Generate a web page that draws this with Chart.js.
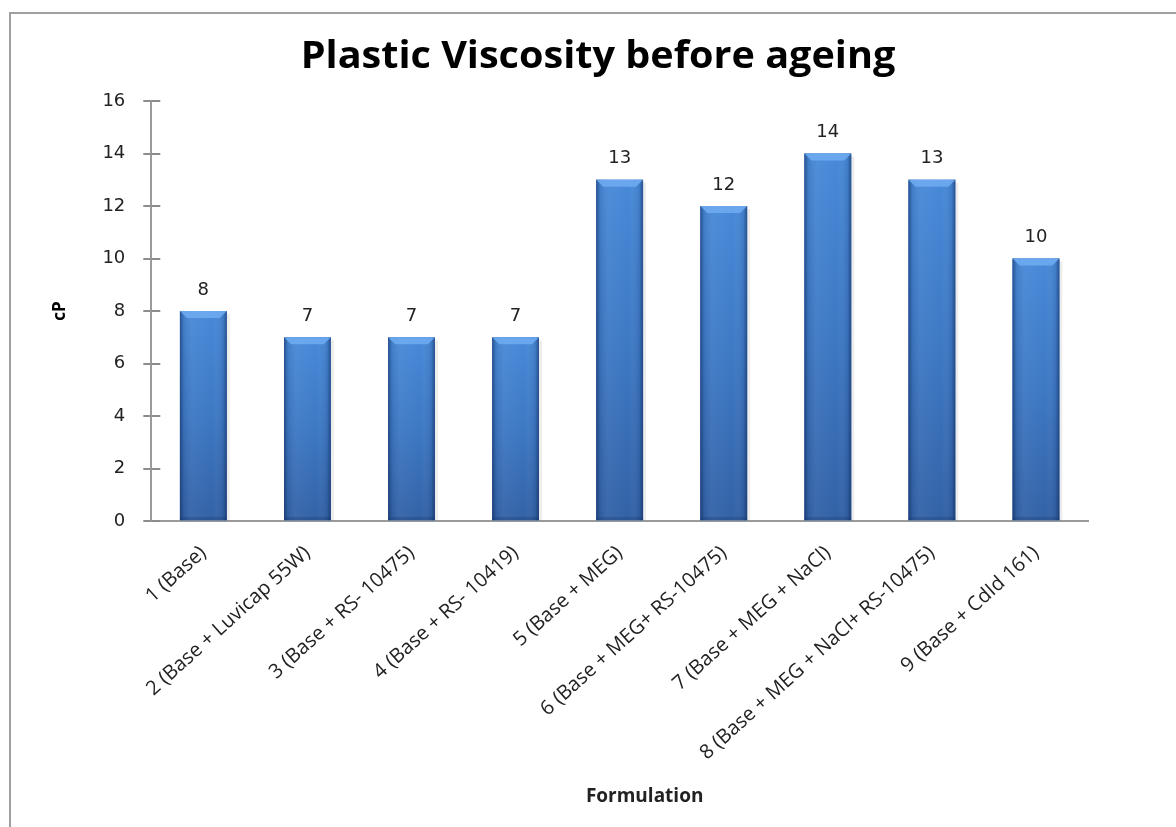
<!DOCTYPE html>
<html>
<head>
<meta charset="utf-8">
<script src="https://cdn.jsdelivr.net/npm/chart.js@4.4.0/dist/chart.umd.min.js"></script>
<style>
  html, body { margin: 0; padding: 0; background: #fff; overflow: hidden; }
  #wrap { position: relative; width: 1176px; height: 827px; }
  #frame { position: absolute; left: 9px; top: 12px; width: 1200px; height: 850px; border: 2px solid #a0a0a0; box-sizing: border-box; }
  canvas { position: absolute; left: 0; top: 0; }
</style>
</head>
<body>
<div id="wrap">
  <div id="frame"></div>
  <canvas id="pvChart" width="1176" height="827"></canvas>
</div>
<script>
const formulations = [
  '1 (Base)',
  '2 (Base + Luvicap 55W)',
  '3 (Base + RS- 10475)',
  '4 (Base + RS- 10419)',
  '5 (Base + MEG)',
  '6 (Base + MEG+ RS-10475)',
  '7 (Base + MEG + NaCl)',
  '8 (Base + MEG + NaCl+ RS-10475)',
  '9 (Base + CdId 161)'
];
const viscosity = [8, 7, 7, 7, 13, 12, 14, 13, 10];
const yTicks = [0, 2, 4, 6, 8, 10, 12, 14, 16];

const chartTitle = 'Plastic Viscosity before ageing';
const xTitle = 'Formulation';

const LABEL_FONT = '"Open Sans", sans-serif';
const NUM_FONT = '"DejaVu Sans", sans-serif';

// shaded 3D-ish bars: vertical gradient, dark side edges, light bevel, value on top
const barDecor = {
  id: 'barDecor',
  afterDatasetsDraw(chart) {
    const c = chart.ctx;
    const meta = chart.getDatasetMeta(0);
    c.save();
    meta.data.forEach((bar, i) => {
      const w = bar.width;
      const l = bar.x - w / 2, r = bar.x + w / 2, t = bar.y, b = bar.base;
      const h = b - t;

      // soft shadow to the right
      c.fillStyle = 'rgba(0,0,0,0.07)';
      c.fillRect(r, t + 3, 3, h - 3);

      const v = c.createLinearGradient(0, t, 0, b);
      v.addColorStop(0, '#4789d8');
      v.addColorStop(0.5, '#3d78c4');
      v.addColorStop(1, '#3262a6');
      c.fillStyle = v;
      c.fillRect(l, t, w, h);

      const e = c.createLinearGradient(l, 0, r, 0);
      e.addColorStop(0, 'rgba(15,35,80,0.55)');
      e.addColorStop(0.08, 'rgba(15,35,80,0.12)');
      e.addColorStop(0.3, 'rgba(255,255,255,0.04)');
      e.addColorStop(0.7, 'rgba(255,255,255,0.0)');
      e.addColorStop(0.92, 'rgba(15,35,80,0.12)');
      e.addColorStop(1, 'rgba(15,35,80,0.55)');
      c.fillStyle = e;
      c.fillRect(l, t, w, h);

      const bev = 7;
      c.fillStyle = 'rgba(110,170,240,0.9)';
      c.beginPath();
      c.moveTo(l, t);
      c.lineTo(r, t);
      c.lineTo(r - bev, t + bev);
      c.lineTo(l + bev, t + bev);
      c.closePath();
      c.fill();

      c.fillStyle = 'rgba(20,45,90,0.25)';
      c.fillRect(l, b - 3, w, 3);

      c.fillStyle = '#222';
      c.font = '18px ' + NUM_FONT;
      c.textAlign = 'center';
      c.textBaseline = 'bottom';
      c.fillText(String(viscosity[i]), bar.x, t - 12);
    });
    c.restore();
  }
};

// y tick marks poke into the plot area too; chart and axis titles
const extras = {
  id: 'extras',
  afterDraw(chart) {
    const y = chart.scales.y;
    const area = chart.chartArea;
    const c = chart.ctx;
    c.save();
    c.strokeStyle = '#8c8c8c';
    c.lineWidth = 2;
    yTicks.forEach(val => {
      const py = Math.round(y.getPixelForValue(val));
      c.beginPath();
      c.moveTo(y.right, py);
      c.lineTo(y.right + 9, py);
      c.stroke();
    });

    c.fillStyle = '#000';
    c.textAlign = 'center';
    c.textBaseline = 'middle';
    c.font = 'bold 37px ' + LABEL_FONT;
    c.translate(chart.width / 2 + 10, 57);
    c.scale(1.07, 1);
    c.fillText(chartTitle, 0, 0);
    c.setTransform(1, 0, 0, 1, 0, 0);

    c.fillStyle = '#222';
    c.font = 'bold 19px ' + LABEL_FONT;
    c.fillText(xTitle, (area.left + area.right) / 2 + 25, 797);
    c.restore();
  }
};

new Chart(document.getElementById('pvChart'), {
  type: 'bar',
  data: {
    labels: formulations,
    datasets: [{
      data: viscosity,
      backgroundColor: '#3d78c4',
      borderWidth: 0,
      barPercentage: 0.45,
      categoryPercentage: 1
    }]
  },
  options: {
    responsive: false,
    animation: false,
    layout: { padding: { left: 50, right: 88, top: 101, bottom: 42 } },
    plugins: {
      legend: { display: false },
      tooltip: { enabled: false }
    },
    scales: {
      x: {
        grid: { display: false, drawTicks: false },
        border: { color: '#9a9a9a', width: 2 },
        ticks: {
          color: '#222',
          font: { family: LABEL_FONT, size: 20 },
          minRotation: 42,
          maxRotation: 42,
          padding: 20,
          autoSkip: false
        }
      },
      y: {
        min: 0,
        max: 16,
        afterBuildTicks: scale => { scale.ticks = yTicks.map(v => ({ value: v })); },
        grid: { drawOnChartArea: false, drawTicks: true, tickLength: 8, color: '#8c8c8c', lineWidth: 2 },
        border: { color: '#9a9a9a', width: 2 },
        ticks: {
          color: '#222',
          font: { family: NUM_FONT, size: 18 },
          padding: 18
        },
        title: {
          display: true,
          text: 'cP',
          color: '#000',
          font: { family: LABEL_FONT, size: 17, weight: 'bold' },
          padding: { top: 0, bottom: 14 }
        }
      }
    }
  },
  plugins: [barDecor, extras]
});
</script>
</body>
</html>
